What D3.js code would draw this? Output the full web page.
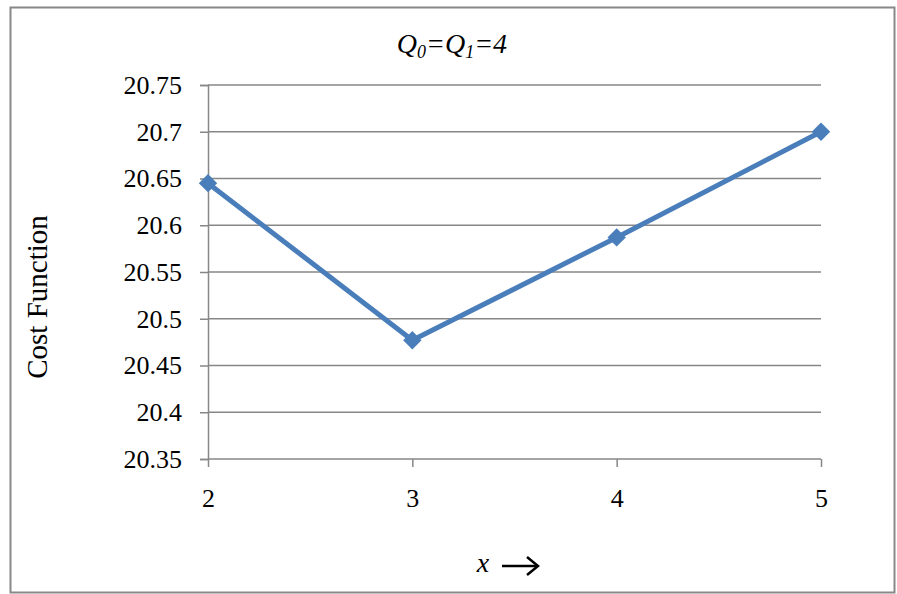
<!DOCTYPE html>
<html>
<head>
<meta charset="utf-8">
<script src="https://cdn.jsdelivr.net/npm/d3@7"></script>
<style>
  body { margin: 0; background: #fff; }
  svg, svg text { font-family: "Liberation Serif", "Times New Roman", serif; }
  .tick text { font-size: 26px; fill: #000; }
</style>
</head>
<body>
<svg id="chart" width="897" height="594"></svg>
<script>
const xValues = [2, 3, 4, 5];
const costValues = [20.645, 20.477, 20.587, 20.700];
const yTicks = [20.35, 20.4, 20.45, 20.5, 20.55, 20.6, 20.65, 20.7, 20.75];

const svg = d3.select("#chart");

// outer frame
svg.append("rect")
  .attr("x", 10.5).attr("y", 7.5)
  .attr("width", 884).attr("height", 585)
  .attr("fill", "#fff")
  .attr("stroke", "#888").attr("stroke-width", 2);

const plot = { left: 208, right: 821, top: 85, bottom: 459 };

const x = d3.scaleLinear().domain([2, 5]).range([plot.left, plot.right]);
const y = d3.scaleLinear().domain([20.35, 20.75]).range([plot.bottom, plot.top]);

// gridlines
svg.append("g")
  .selectAll("line")
  .data(yTicks)
  .join("line")
  .attr("x1", plot.left).attr("x2", plot.right)
  .attr("y1", d => y(d)).attr("y2", d => y(d))
  .attr("stroke", "#878787").attr("stroke-width", 1.5);

// y axis
const yAxis = svg.append("g")
  .attr("transform", `translate(${plot.left},0)`)
  .call(d3.axisLeft(y).tickValues(yTicks).tickFormat(d => String(+d.toFixed(2))).tickSize(8).tickPadding(18));
yAxis.attr("font-family", null).attr("font-size", null);
yAxis.select(".domain").attr("stroke", "#878787").attr("stroke-width", 1.5);
yAxis.selectAll(".tick line").attr("stroke", "#878787").attr("stroke-width", 1.5);

// x axis
const xAxis = svg.append("g")
  .attr("transform", `translate(0,${plot.bottom})`)
  .call(d3.axisBottom(x).tickValues(xValues).tickFormat(d3.format("d")).tickSize(8).tickPadding(22));
xAxis.attr("font-family", null).attr("font-size", null);
xAxis.select(".domain").remove();
xAxis.selectAll(".tick line").attr("stroke", "#878787").attr("stroke-width", 1.5);

// line
const data = xValues.map((v, i) => ({ x: v, y: costValues[i] }));
svg.append("path")
  .datum(data)
  .attr("fill", "none")
  .attr("stroke", "#4a7ebb")
  .attr("stroke-width", 5)
  .attr("stroke-linejoin", "round")
  .attr("d", d3.line().x(d => x(d.x)).y(d => y(d.y)));

// diamond markers
svg.append("g")
  .selectAll("path")
  .data(data)
  .join("path")
  .attr("transform", d => `translate(${x(d.x)},${y(d.y)}) rotate(45)`)
  .attr("d", "M-6.5,-6.5H6.5V6.5H-6.5Z")
  .attr("fill", "#4a7ebb");

// title
const title = svg.append("text")
  .attr("x", 452).attr("y", 53)
  .attr("text-anchor", "middle")
  .attr("font-size", 28)
  .attr("font-style", "italic");
title.append("tspan").text("Q");
title.append("tspan").attr("font-size", 18).attr("dy", 5).text("0");
title.append("tspan").attr("dy", -5).text("=Q");
title.append("tspan").attr("font-size", 18).attr("dy", 5).text("1");
title.append("tspan").attr("dy", -5).text("=4");

// y axis title
svg.append("text")
  .attr("transform", "translate(47,297) rotate(-90)")
  .attr("text-anchor", "middle")
  .attr("font-size", 29)
  .text("Cost Function");

// x axis title
svg.append("text")
  .attr("x", 483).attr("y", 572)
  .attr("text-anchor", "middle")
  .attr("font-size", 28)
  .attr("font-style", "italic")
  .text("x");
svg.append("line")
  .attr("x1", 502).attr("x2", 537)
  .attr("y1", 566).attr("y2", 566)
  .attr("stroke", "#000").attr("stroke-width", 2.5);
svg.append("path")
  .attr("d", "M527,557L538,566L527,575")
  .attr("fill", "none")
  .attr("stroke", "#000").attr("stroke-width", 2.5);
</script>
</body>
</html>
